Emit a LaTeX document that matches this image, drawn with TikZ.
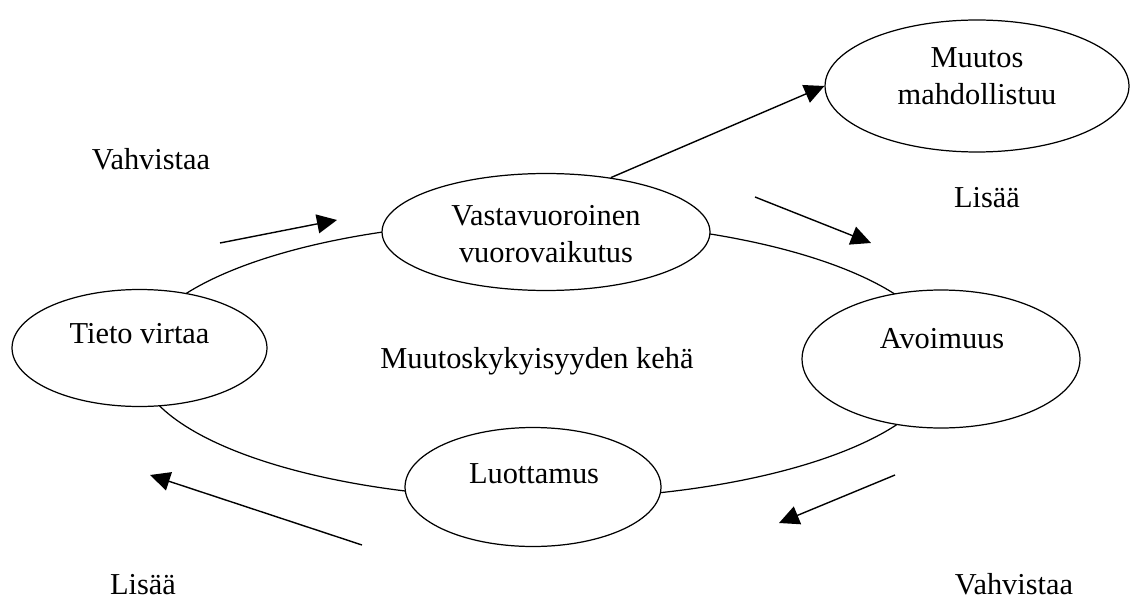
\documentclass[tikz,border=0pt]{standalone}
\usepackage{fontspec}
\setmainfont{Liberation Serif}
\usetikzlibrary{shapes.geometric, arrows.meta}

\begin{document}
\begin{tikzpicture}[x=0.02cm, y=-0.02cm,
  kupla/.style={draw, ellipse, fill=white, line width=0.7pt, inner sep=0pt},
  teksti/.style={anchor=base, inner sep=0pt, font=\fontsize{17.3}{21}\selectfont},
  nuoli/.style={line width=0.8pt, -{Triangle[length=0.4cm, width=0.38cm]}}]

\useasboundingbox (0,0) rectangle (1131,601);

% Kehä kuplien takana
\node[draw, ellipse, line width=0.7pt, minimum width=16.12cm, minimum height=5.56cm] (keha) at (540,360) {};

% Kuplat
\node[kupla, minimum width=5.1cm, minimum height=2.34cm] (tieto) at (139.5,348) {};
\node[kupla, minimum width=6.56cm, minimum height=2.34cm] (vasta) at (546,232) {};
\node[kupla, minimum width=6.08cm, minimum height=2.64cm] (muutos) at (977,86) {};
\node[kupla, minimum width=5.56cm, minimum height=2.76cm] (avoin) at (941,359) {};
\node[kupla, minimum width=5.12cm, minimum height=2.38cm] (luotto) at (533,487) {};

% Kuplien tekstit
\node[teksti] (tieto-t) at (139.5,343) {Tieto virtaa};
\node[teksti] (vasta-t1) at (546,225) {Vastavuoroinen};
\node[teksti] (vasta-t2) at (546,262) {vuorovaikutus};
\node[teksti] (muutos-t1) at (977,68) {Muutos};
\node[teksti] (muutos-t2) at (977,105) {mahdollistuu};
\node[teksti] (avoin-t) at (942,348) {Avoimuus};
\node[teksti] (luotto-t) at (534,483) {Luottamus};
\node[teksti] (keha-t) at (537,368) {Muutoskykyisyyden kehä};

% Muut tekstit
\node[teksti] (vahv1) at (151,170) {Vahvistaa};
\node[teksti] (lisaa1) at (987,207) {Lisää};
\node[teksti] (lisaa2) at (143,594) {Lisää};
\node[teksti] (vahv2) at (1014,594) {Vahvistaa};

% Nuolet
\coordinate (n1a) at (220,243);
\coordinate (n1b) at (337,220);
\coordinate (n3a) at (755,197);
\coordinate (n3b) at (871,243);
\coordinate (n4a) at (895,475);
\coordinate (n4b) at (779,523);
\coordinate (n5a) at (362,545);
\coordinate (n5b) at (150,475);

\draw[nuoli] (n1a) -- (n1b);
\draw[nuoli] (vasta.40) -- (muutos.west);
\draw[nuoli] (n3a) -- (n3b);
\draw[nuoli] (n4a) -- (n4b);
\draw[nuoli] (n5a) -- (n5b);

\end{tikzpicture}
\end{document}
